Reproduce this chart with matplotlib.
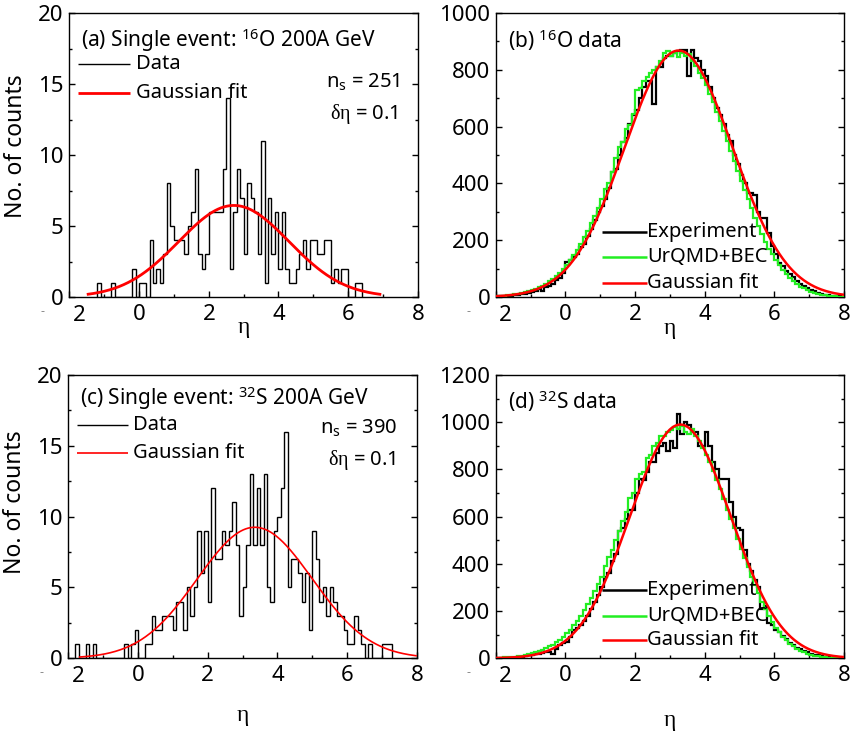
import numpy as np
import matplotlib
matplotlib.use("Agg")
import matplotlib.pyplot as plt
from matplotlib.ticker import MultipleLocator, FixedLocator, FixedFormatter

plt.rcParams['font.family'] = ['Noto Sans', 'DejaVu Sans']
plt.rcParams['mathtext.fontset'] = 'custom'
plt.rcParams['mathtext.rm'] = 'Noto Sans'
plt.rcParams['mathtext.it'] = 'Liberation Serif'
plt.rcParams['mathtext.bf'] = 'Noto Sans:bold'

BIN = 0.1

# ---------------- panel (a): single 16O event ----------------
a_first_edge = -1.2
a_counts = [1, 0, 0, 0, 1, 0, 0, 0, 0, 0, 2, 0, 1, 1, 0, 4, 1, 2, 1, 3,
            8, 5, 4, 4, 4, 3, 5, 6, 9, 3, 2, 3, 6, 6, 6, 6, 9, 14, 2, 6,
            9, 7, 3, 8, 7, 6, 3, 11, 1, 7, 3, 6, 2, 6, 2, 1, 1, 2, 3, 4,
            2, 4, 4, 3, 3, 4, 4, 1, 2, 1, 2, 2, 0, 0, 1, 1]
a_fit = dict(amp=6.45, mean=2.72, sigma=1.58, lo=-1.5, hi=6.95)
a_ns, a_deta = 251, 0.1

# ---------------- panel (c): single 32S event ----------------
c_first_edge = -1.8
c_counts = [1, 0, 0, 1, 0, 1, 0, 0, 0, 0, 0, 0, 0, 0, 1, 0, 1, 2, 0, 0,
            1, 1, 3, 2, 2, 3, 3, 3, 2, 4, 4, 2, 5, 3, 5, 9, 6, 9, 4, 12,
            7, 7, 9, 8, 9, 11, 8, 3, 5, 8, 13, 8, 12, 8, 13, 5, 4, 9, 10, 12,
            16, 5, 7, 7, 6, 4, 6, 2, 9, 7, 4, 5, 3, 5, 4, 3, 3, 2, 1, 1,
            3, 2, 1, 0, 1, 0, 0, 0, 1, 1, 1]
c_fit = dict(amp=9.25, mean=3.35, sigma=1.65, lo=-1.7, hi=8.0)
c_ns, c_deta = 390, 0.1

# ---------------- panel (b): 16O data ----------------
b_first_edge = -2.0
b_experiment = [2, 2, 3, 4, 5, 6, 8, 9, 12, 14, 18, 22, 28, 20, 35, 38, 45, 60, 68, 85,
                125, 130, 140, 150, 175, 185, 215, 240, 270, 300, 320, 345, 385, 440, 450, 500, 545, 560, 610, 640,
                660, 700, 740, 760, 760, 680, 810, 810, 840, 850, 850, 860, 865, 870, 870, 780, 870, 840, 830, 800,
                780, 740, 700, 665, 640, 610, 570, 550, 500, 470, 430, 400, 365, 365, 360, 300, 280, 280, 225, 180,
                150, 120, 110, 90, 80, 70, 55, 45, 40, 32, 25, 20, 15, 10, 8, 6, 4, 3, 2, 1]
b_urqmd = [3, 4, 5, 6, 8, 9, 11, 14, 17, 20, 24, 29, 34, 40, 47, 55, 64, 75, 86, 100,
           112, 130, 148, 165, 185, 210, 232, 260, 285, 315, 345, 380, 400, 440, 490, 530, 545, 590, 605, 645,
           730, 735, 760, 775, 790, 800, 810, 830, 860, 865, 850, 860, 845, 860, 850, 855, 830, 815, 790, 770,
           745, 715, 685, 650, 620, 585, 550, 515, 480, 445, 410, 378, 345, 312, 280, 250, 222, 195, 170, 150,
           130, 112, 95, 80, 67, 55, 45, 37, 30, 24, 19, 15, 11, 8, 6, 4, 3, 2, 1, 1]
b_fit = dict(amp=868, mean=3.25, sigma=1.55, lo=-2.0, hi=8.0)

# ---------------- panel (d): 32S data ----------------
d_first_edge = -2.0
d_experiment = [0, 1, 1, 2, 2, 3, 4, 6, 8, 12, 15, 18, 20, 22, 25, 28, 20, 40, 55, 65,
                70, 90, 120, 130, 140, 160, 180, 210, 240, 270, 300, 345, 360, 410, 440, 540, 550, 590, 630, 630,
                700, 760, 755, 790, 830, 830, 870, 900, 910, 880, 920, 890, 1035, 950, 1000, 990, 960, 960, 900, 900,
                960, 900, 830, 800, 760, 760, 760, 660, 600, 550, 545, 460, 400, 370, 330, 300, 210, 220, 150, 140,
                120, 110, 95, 80, 65, 55, 45, 38, 30, 25, 20, 15, 12, 8, 6, 4, 3, 2, 1, 1]
d_urqmd = [2, 3, 4, 5, 6, 7, 9, 11, 14, 17, 21, 25, 30, 36, 42, 50, 58, 67, 78, 90,
           105, 120, 140, 160, 180, 205, 230, 255, 285, 315, 345, 390, 430, 460, 500, 540, 580, 620, 680, 700,
           760, 780, 790, 850, 860, 900, 910, 940, 940, 960, 965, 980, 970, 985, 960, 950, 970, 940, 920, 890,
           860, 830, 795, 755, 715, 675, 630, 590, 550, 505, 465, 425, 385, 345, 310, 275, 240, 210, 180, 155,
           130, 110, 92, 76, 62, 50, 40, 32, 25, 19, 15, 11, 8, 6, 4, 3, 2, 1, 1, 0]
d_fit = dict(amp=990, mean=3.3, sigma=1.45, lo=-2.0, hi=8.0)

x_ticks = [-2, 0, 2, 4, 6, 8]
x_ticklabels = ['', '0', '2', '4', '6', '8']

GREEN = '#22ee22'
RED = '#ff0000'
FS_TICK = 16
FS_TEXT = 14.5
FS_TITLE = 15
FS_YLAB = 16.5

fig = plt.figure(figsize=(8.5, 7.37), dpi=100)
ax_a = fig.add_axes([0.0816, 0.597, 0.410, 0.3853])
ax_b = fig.add_axes([0.5832, 0.597, 0.4098, 0.3853])
ax_c = fig.add_axes([0.0804, 0.1068, 0.410, 0.3844])
ax_d = fig.add_axes([0.5832, 0.1068, 0.4098, 0.3844])


def edges_for(first, n):
    return first + BIN * np.arange(n + 1)


def gauss_curve(ax, p, lw):
    x = np.linspace(p['lo'], p['hi'], 400)
    y = p['amp'] * np.exp(-(x - p['mean']) ** 2 / (2 * p['sigma'] ** 2))
    ax.plot(x, y, color=RED, lw=lw, zorder=5, solid_capstyle='butt')


def style(ax, ymax, ymaj, ymin, xlabel_y):
    ax.set_xlim(-2, 8)
    ax.set_ylim(0, ymax)
    ax.xaxis.set_major_locator(FixedLocator(x_ticks))
    ax.xaxis.set_major_formatter(FixedFormatter(x_ticklabels))
    ax.xaxis.set_minor_locator(MultipleLocator(1))
    ax.yaxis.set_major_locator(MultipleLocator(ymaj))
    ax.yaxis.set_minor_locator(MultipleLocator(ymin))
    ax.tick_params(which='both', direction='in', top=False, right=True,
                   labelsize=FS_TICK, width=1.0, colors='black')
    ax.tick_params(which='major', length=4.5)
    ax.tick_params(which='minor', length=2.5)
    ax.tick_params(axis='x', pad=5)
    ax.tick_params(axis='y', pad=4)
    for s in ax.spines.values():
        s.set_linewidth(1.0)
    # the "-2" tick label as drawn in the original (detached minus sign)
    ax.annotate('2', xy=(-2, 0), xycoords=('data', 'axes fraction'),
                xytext=(10, -8), textcoords='offset pixels',
                ha='center', va='top', fontsize=FS_TICK)
    ax.annotate('-', xy=(-2, 0), xycoords=('data', 'axes fraction'),
                xytext=(-27, -8), textcoords='offset pixels',
                ha='center', va='top', fontsize=9, color='#888888')
    ax.set_xlabel('η', fontsize=17, family=['Liberation Serif', 'DejaVu Serif'])
    ax.xaxis.set_label_coords(0.5, xlabel_y)


def legend_manual(ax, entries, x0, x1, xt, ys):
    for (label, color, lw), y in zip(entries, ys):
        ax.plot([x0, x1], [y, y], transform=ax.transAxes, color=color, lw=lw,
                clip_on=False, solid_capstyle='butt', zorder=6)
        ax.text(xt, y, label, transform=ax.transAxes, fontsize=FS_TEXT,
                ha='left', va='center', zorder=6)


# ---- (a)
ea = edges_for(a_first_edge, len(a_counts))
ax_a.stairs(a_counts, ea, baseline=0, color='black', lw=1.0, zorder=4)
gauss_curve(ax_a, a_fit, 2.0)
style(ax_a, 20, 5, 2.5, -0.07)
ax_a.set_ylabel('No. of counts', fontsize=FS_YLAB)
ax_a.yaxis.set_label_coords(-0.118, 0.53)
ax_a.text(0.034, 0.905, r'(a) Single event: $^{\mathregular{16}}$O 200A GeV',
          transform=ax_a.transAxes, fontsize=FS_TITLE, va='center', ha='left')
legend_manual(ax_a, [('Data', 'black', 1.0), ('Gaussian fit', RED, 2.0)],
              0.025, 0.175, 0.19, [0.822, 0.72])
ax_a.text(0.95, 0.76, r'n$_{\mathregular{s}}$ = %d' % a_ns, transform=ax_a.transAxes,
          fontsize=FS_TEXT, ha='right', va='center')
ax_a.text(0.944, 0.645, r'$\delta\eta$ = %.1f' % a_deta, transform=ax_a.transAxes,
          fontsize=FS_TEXT, ha='right', va='center')

# ---- (c)
ec = edges_for(c_first_edge, len(c_counts))
ax_c.stairs(c_counts, ec, baseline=0, color='black', lw=1.0, zorder=4)
gauss_curve(ax_c, c_fit, 1.2)
style(ax_c, 20, 5, 2.5, -0.165)
ax_c.set_ylabel('No. of counts', fontsize=FS_YLAB)
ax_c.yaxis.set_label_coords(-0.118, 0.55)
ax_c.text(0.034, 0.918, r'(c) Single event: $^{\mathregular{32}}$S 200A GeV',
          transform=ax_c.transAxes, fontsize=FS_TITLE, va='center', ha='left')
legend_manual(ax_c, [('Data', 'black', 1.0), ('Gaussian fit', RED, 1.2)],
              0.025, 0.172, 0.185, [0.823, 0.725])
ax_c.text(0.945, 0.813, r'n$_{\mathregular{s}}$ = %d' % c_ns, transform=ax_c.transAxes,
          fontsize=FS_TEXT, ha='right', va='center')
ax_c.text(0.94, 0.70, r'$\delta\eta$ = %.1f' % c_deta, transform=ax_c.transAxes,
          fontsize=FS_TEXT, ha='right', va='center')

# ---- (b)
eb = edges_for(b_first_edge, len(b_experiment))
ax_b.stairs(b_experiment, eb, baseline=None, color='black', lw=1.6, zorder=3)
ax_b.stairs(b_urqmd, eb, baseline=None, color=GREEN, lw=1.6, zorder=4)
gauss_curve(ax_b, b_fit, 1.8)
style(ax_b, 1000, 200, 100, -0.074)
ax_b.text(0.034, 0.905, r'(b) $^{\mathregular{16}}$O data', transform=ax_b.transAxes,
          fontsize=FS_TITLE, va='center', ha='left')
legend_manual(ax_b, [('Experiment', 'black', 1.8), ('UrQMD+BEC', GREEN, 1.8),
                     ('Gaussian fit', RED, 1.8)],
              0.305, 0.435, 0.435, [0.23, 0.14, 0.05])

# ---- (d)
ed = edges_for(d_first_edge, len(d_experiment))
ax_d.stairs(d_experiment, ed, baseline=None, color='black', lw=1.6, zorder=3)
ax_d.stairs(d_urqmd, ed, baseline=None, color=GREEN, lw=1.6, zorder=4)
gauss_curve(ax_d, d_fit, 1.8)
style(ax_d, 1200, 200, 100, -0.182)
ax_d.text(0.034, 0.905, r'(d) $^{\mathregular{32}}$S data', transform=ax_d.transAxes,
          fontsize=FS_TITLE, va='center', ha='left')
legend_manual(ax_d, [('Experiment', 'black', 1.8), ('UrQMD+BEC', GREEN, 1.8),
                     ('Gaussian fit', RED, 1.8)],
              0.305, 0.435, 0.435, [0.24, 0.15, 0.065])

fig.savefig('out.png', dpi=100)
